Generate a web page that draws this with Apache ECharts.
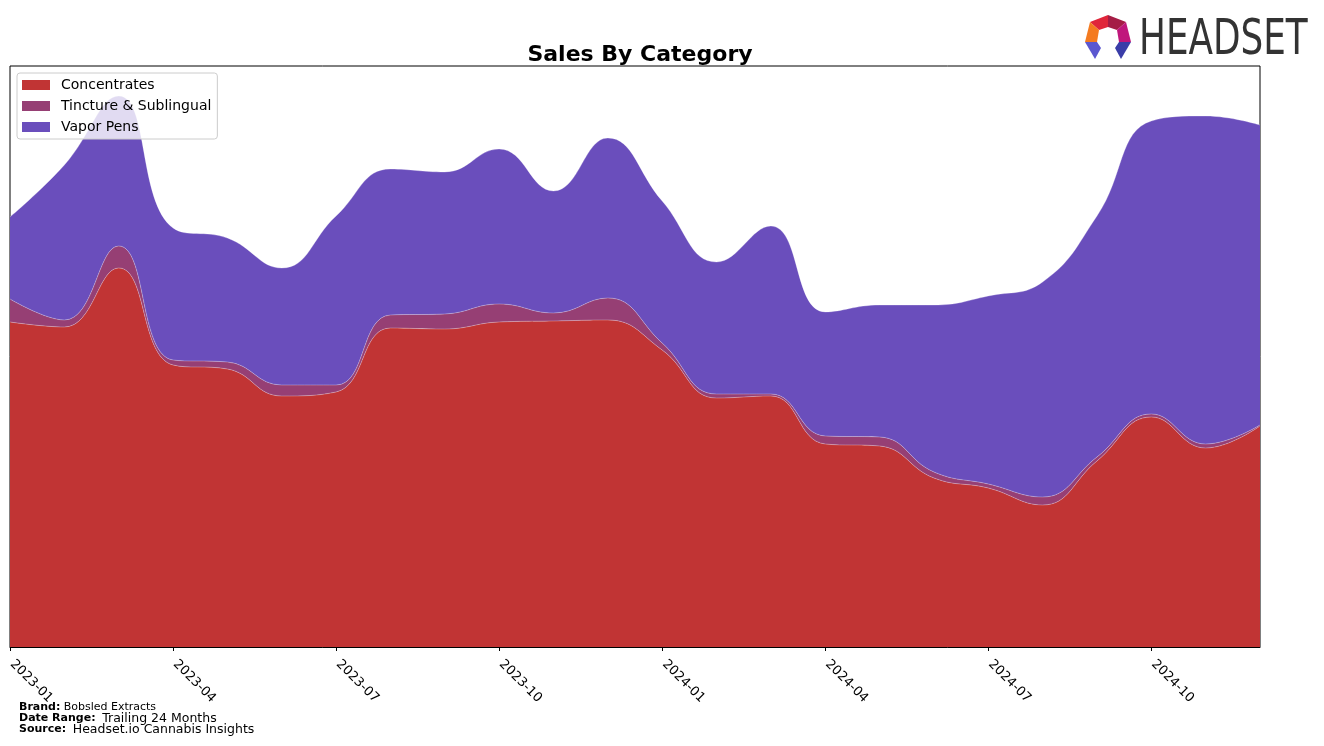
<!DOCTYPE html>
<html>
<head>
<meta charset="utf-8">
<script src="https://cdn.jsdelivr.net/npm/echarts@6/dist/echarts.min.js"></script>
<style>
html,body{margin:0;padding:0;background:#fff;}
#chart{width:1324px;height:746px;}
</style>
</head>
<body>
<div id="chart"></div>
<script>
const months = ['2023-01','2023-02','2023-03','2023-04','2023-05','2023-06','2023-07','2023-08','2023-09','2023-10','2023-11','2023-12','2024-01','2024-02','2024-03','2024-04','2024-05','2024-06','2024-07','2024-08','2024-09','2024-10','2024-11','2024-12'];
const concentrates = [325,320,379,282,278,251,255,319,318,325,326,327,297,249,251,203,201,169,159,142,186,230,199,221];
const tincture = [23,7,22,5,7,11,7,13,15,18,8,22,7,4,2,8,9,6,4,8,4,3,4,1];
const vaporPens = [82,155,150,132,124,117,169,146,142,155,122,160,142,132,168,124,132,167,188,215,241,293,328,300];
const tickLabels = ['2023-01','2023-04','2023-07','2023-10','2024-01','2024-04','2024-07','2024-10'];

const names = ['Concentrates','Tincture & Sublingual','Vapor Pens'];
const colors = ['#c13434','#963f74','#6a4ebc'];
const values = [concentrates, tincture, vaporPens];

const chart = echarts.init(document.getElementById('chart'), null, {renderer:'canvas'});

const series = names.map((n, i) => ({
  name: n,
  type: 'line',
  stack: 'total',
  smooth: 0.45,
  showSymbol: false,
  symbol: 'none',
  lineStyle: {width: 0.8, color: 'rgba(255,255,255,0.35)'},
  itemStyle: {color: colors[i]},
  areaStyle: {color: colors[i], opacity: 1},
  emphasis: {disabled: true},
  data: values[i]
}));

const showTick = (idx, val) => tickLabels.indexOf(val) >= 0;

const O = [[1108,15],[1126,22],[1131,42],[1121,59],[1095,59],[1085,42],[1090,22]];
const I = [[1108,27],[1117,30],[1119,42],[1115,48],[1101,48],[1097,42],[1099,30]];
const seg = (pts, c) => ({type:'polygon', shape:{points:pts}, style:{fill:c}});

chart.setOption({
  animation: false,
  title: {
    text: 'Sales By Category',
    left: 635, top: 39, textAlign: 'center',
    textStyle: {fontFamily: 'DejaVu Sans', fontSize: 22, fontWeight: 'bold', color: '#000'}
  },
  legend: {
    orient: 'vertical',
    left: 17, top: 73,
    padding: [5, 6, 5, 5],
    itemGap: 7,
    itemWidth: 28, itemHeight: 10,
    icon: 'rect',
    backgroundColor: 'rgba(255,255,255,0.8)',
    borderColor: '#cccccc', borderWidth: 1, borderRadius: 3,
    textStyle: {fontFamily: 'DejaVu Sans', fontSize: 14, color: '#000', padding: [0, 0, 0, 6]},
    data: names
  },
  grid: {left: 10, right: 64, top: 66, bottom: 99, show: true, borderColor: '#000', borderWidth: 1, backgroundColor: 'transparent'},
  xAxis: {
    type: 'category',
    data: months,
    boundaryGap: false,
    axisLine: {show: true, lineStyle: {color: '#000', width: 1}},
    axisTick: {show: true, interval: showTick, length: 4, lineStyle: {color: '#000'}},
    axisLabel: {
      interval: showTick,
      rotate: -45,
      margin: 13,
      padding: [0, 0, 0, 3],
      fontFamily: 'DejaVu Sans', fontSize: 13, color: '#000'
    },
    splitLine: {show: false}
  },
  yAxis: {
    type: 'value', min: 0, max: 581,
    axisLine: {show: false}, axisTick: {show: false}, axisLabel: {show: false}, splitLine: {show: false}
  },
  series: series,
  graphic: [
    seg([O[6],O[0],I[0],I[6]], '#e0263a'),
    seg([O[0],O[1],I[1],I[0]], '#a51d45'),
    seg([O[1],O[2],I[2],I[1]], '#c0177c'),
    seg([O[2],O[3],I[3],I[2]], '#3a3da8'),
    seg([O[5],O[6],I[6],I[5]], '#f47b20'),
    seg([O[4],O[5],I[5],I[4]], '#5b57d0'),
    {type:'text', x:1139, y:17, scaleX:0.73, style:{text:'HEADSET', fill:'#333333', font:'49px "DejaVu Sans"', textVerticalAlign:'top'}},
    {type:'text', x:19, y:701, style:{text:'{b|Brand:} {g|Bobsled Extracts}', rich:{b:{fontFamily:'DejaVu Sans',fontSize:11,fontWeight:'bold',color:'#000'}, g:{fontFamily:'DejaVu Sans',fontSize:11,color:'#888'}}}},
    {type:'text', x:19, y:712, style:{text:'{b|Date Range:}  {g|Trailing 24 Months}', rich:{b:{fontFamily:'DejaVu Sans',fontSize:11,fontWeight:'bold',color:'#000'}, g:{fontFamily:'DejaVu Sans',fontSize:12.5,color:'#888'}}}},
    {type:'text', x:19, y:723, style:{text:'{b|Source:}  {g|Headset.io Cannabis Insights}', rich:{b:{fontFamily:'DejaVu Sans',fontSize:11,fontWeight:'bold',color:'#000'}, g:{fontFamily:'DejaVu Sans',fontSize:12.5,color:'#888'}}}}
  ]
});
</script>
</body>
</html>
